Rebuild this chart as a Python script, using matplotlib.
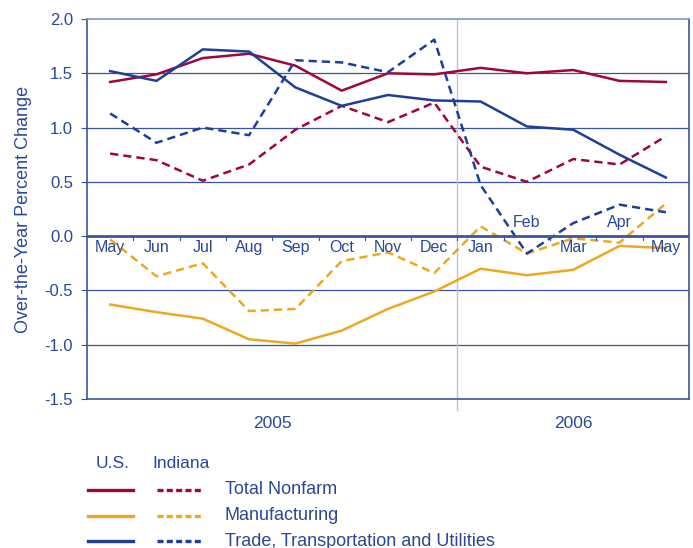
import numpy as np
import matplotlib
matplotlib.use("Agg")
import matplotlib.pyplot as plt
from matplotlib.lines import Line2D

plt.rcParams["font.family"] = ["Liberation Sans", "DejaVu Sans"]

months = ["May", "Jun", "Jul", "Aug", "Sep", "Oct", "Nov", "Dec",
          "Jan", "Feb", "Mar", "Apr", "May"]
us_nonfarm = [1.42, 1.49, 1.64, 1.68, 1.57, 1.34, 1.50, 1.49, 1.55, 1.50, 1.53, 1.43, 1.42]
in_nonfarm = [0.76, 0.70, 0.51, 0.66, 0.98, 1.20, 1.05, 1.23, 0.64, 0.50, 0.71, 0.66, 0.92]
us_manuf = [-0.63, -0.70, -0.76, -0.95, -0.99, -0.87, -0.67, -0.51, -0.30, -0.36, -0.31, -0.09, -0.11]
in_manuf = [-0.03, -0.37, -0.25, -0.69, -0.67, -0.23, -0.15, -0.34, 0.09, -0.16, -0.02, -0.06, 0.30]
us_trade = [1.52, 1.43, 1.72, 1.70, 1.37, 1.20, 1.30, 1.25, 1.24, 1.01, 0.98, 0.75, 0.54]
in_trade = [1.13, 0.86, 1.00, 0.93, 1.62, 1.60, 1.51, 1.81, 0.47, -0.16, 0.12, 0.29, 0.22]
years = ["2005", "2006"]
legend_names = ["Total Nonfarm", "Manufacturing", "Trade, Transportation and Utilities"]

RED = "#a0063a"
YEL = "#eaa921"
BLU = "#1f3f97"
TXT = "#2a4798"
GRID = "#3a55a0"

fig = plt.figure(figsize=(6.93, 5.48), dpi=100)
ax = fig.add_axes([87/693, 1-399/548, 602/693, 380/548])

x = np.arange(len(months))
lw = 1.8
dash = (0, (3.3, 2.0))
ax.plot(x, us_nonfarm, color=RED, lw=lw)
ax.plot(x, in_nonfarm, color=RED, lw=lw, ls=dash)
ax.plot(x, us_manuf, color=YEL, lw=lw)
ax.plot(x, in_manuf, color=YEL, lw=lw, ls=dash)
ax.plot(x, us_trade, color=BLU, lw=lw)
ax.plot(x, in_trade, color=BLU, lw=lw, ls=dash)

ax.set_xlim(-0.5, 12.5)
ax.set_ylim(-1.5, 2.0)
yt = np.arange(-1.5, 2.01, 0.5)
ax.set_yticks(yt)
ax.set_yticklabels(["%.1f" % v for v in yt], color=TXT, fontsize=12)
ax.tick_params(axis="y", length=4, color=GRID, pad=6)
ax.set_xticks([])
for v in yt[1:-1]:
    ax.axhline(v, color=GRID, lw=0.9 if v != 0 else 2.0, zorder=0 if v != 0 else 3)
for s in ax.spines.values():
    s.set_color(GRID)
    s.set_linewidth(1.2)
ax.spines["top"].set_color("#7f93c4")

# month labels on the zero line
for i, m in enumerate(months):
    if m in ("Feb", "Apr") and i > 8:
        ax.text(i, 0.06, m, ha="center", va="bottom", color=TXT, fontsize=11.5, zorder=5)
    else:
        ax.text(i, -0.04, m, ha="center", va="top", color=TXT, fontsize=11.5, zorder=5)
for i in np.arange(0.5, 12, 1):
    ax.plot([i, i], [0, -0.04], color=GRID, lw=0.8, zorder=4)

# year separator
ax.plot([7.5, 7.5], [-1.6, 2.0], color="#b8c4dc", lw=1, clip_on=False, zorder=1)
ax.text(3.5, -1.66, years[0], ha="center", va="top", color=TXT, fontsize=12.5)
ax.text(10, -1.66, years[1], ha="center", va="top", color=TXT, fontsize=12.5)

ax.set_ylabel("Over-the-Year Percent Change", color=TXT, fontsize=13, labelpad=9)

# legend drawn manually
fig.text(113/693, 1-463/548, "U.S.", color=TXT, fontsize=12.5, ha="center", va="center")
fig.text(181/693, 1-463/548, "Indiana", color=TXT, fontsize=12.5, ha="center", va="center")
cols = [RED, YEL, BLU]
for k, (name, c) in enumerate(zip(legend_names, cols)):
    yy = 1 - (490 + k*25.5)/548
    fig.add_artist(Line2D([88/693, 133/693], [yy, yy], color=c, lw=2.4))
    fig.add_artist(Line2D([157/693, 203/693], [yy, yy], color=c, lw=2.4, ls=(0, (1.8, 1.0))))
    fig.text(225/693, yy, name, color=TXT, fontsize=13, va="center")

fig.savefig("out.png", dpi=100)
